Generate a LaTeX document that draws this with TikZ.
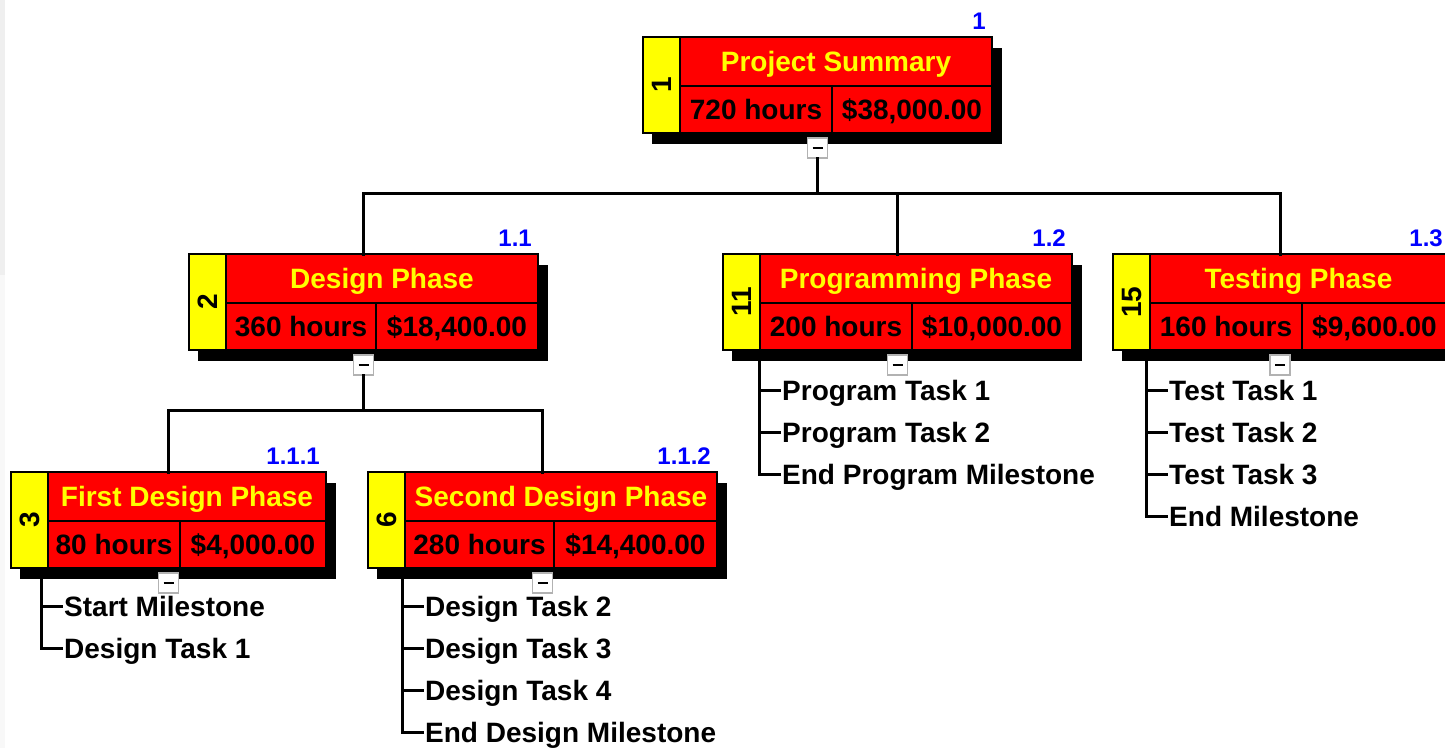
\documentclass[tikz,border=0pt]{standalone}
\usepackage{fontspec}
\setmainfont{Liberation Sans}
\usepackage{graphicx}
\definecolor{wbsred}{HTML}{FF0000}
\definecolor{wbsyellow}{HTML}{FFFF00}
\definecolor{wbsblue}{HTML}{0000FF}
\definecolor{stripA}{HTML}{EFEFEF}
\definecolor{stripB}{HTML}{F8F8F8}
\tikzset{
  cellfont/.style={font=\fontsize{28}{30}\selectfont\bfseries},
  numbox/.style={draw=black, line width=1.2, fill=wbsyellow, inner sep=0, cellfont},
  titlebox/.style={draw=black, line width=1.2, fill=wbsred, text=wbsyellow, inner sep=0, text height=20, text depth=0, cellfont},
  cellbox/.style={draw=black, line width=1.2, fill=wbsred, text=black, inner sep=0, text height=20, text depth=0, cellfont},
  togglebox/.style={draw=gray!60, line width=1.2, fill=white, minimum width=20, minimum height=20, inner sep=0},
  conn/.style={draw=black, line width=3, line cap=rect, line join=miter},
  tasktext/.style={anchor=west, inner sep=0, text height=20, text depth=0, text=black, cellfont},
  lbl/.style={anchor=base east, inner sep=0, text=wbsblue, font=\fontsize{24}{26}\selectfont\bfseries},
}
% #1 name, #2 left, #3 top, #4 right, #5 divider, #6 number, #7 title, #8 hours, #9 cost
\newcommand{\wbsbox}[9]{%
  \fill[black] (#2+9,#3+11) rectangle (#4+10,#3+107);
  \node[numbox, minimum width=37, minimum height=96] (#1-num) at (#2+18.5,#3+48) {\rotatebox{90}{#6}};
  \node[titlebox, minimum width={#4-#2-37}, minimum height=49] (#1-title) at ({(#2+37+#4)/2},#3+24.5) {#7};
  \node[cellbox, minimum width={#5-#2-37}, minimum height=47] (#1-hrs) at ({(#2+37+#5)/2},#3+72.5) {#8};
  \node[cellbox, minimum width={#4-#5}, minimum height=47] (#1-cost) at ({(#5+#4)/2},#3+72.5) {#9};
  \coordinate (#1) at ({(#2+#4)/2},#3);
  \node[togglebox] (#1-tog) at ({(#2+#4)/2},#3+111) {};
  \draw[line width=1.6] ([xshift=-5]#1-tog.center) -- ([xshift=5]#1-tog.center);
}
% #1 name, #2 trunk x, #3 trunk top y, #4 count, #5 items
\newcommand{\tasklist}[5]{%
  \coordinate (#1-trunk) at (#2,#3);
  \foreach \t [count=\i] in {#5} {
    \node[tasktext] (#1-t\i) at (#2+23,{#3+28+42.3*(\i-1)}) {\t};
  }
  \draw[conn] (#1-trunk) |- ([xshift=-3]#1-t#4.west);
  \foreach \i in {1,...,#4} {
    \draw[conn] ([xshift=-3]#1-t\i.west) -- ++(-20,0);
  }
}
\begin{document}
\begin{tikzpicture}[x=1pt,y=-1pt]
\clip (0,0) rectangle (1445,748);
\fill[white] (0,0) rectangle (1445,748);
\fill[stripB] (0,275) rectangle (5,748);
\fill[stripA] (0,0) rectangle (5,275);

% connectors
\coordinate (bus1) at (817,193);
\coordinate (bus2) at (363,410);

\wbsbox{ps}{643}{37}{992}{832}{1}{Project Summary}{720 hours}{\$38,000.00}
\wbsbox{dp}{189}{254}{538}{376}{2}{Design Phase}{360 hours}{\$18,400.00}
\wbsbox{pp}{723}{254}{1072}{912}{11}{Programming Phase}{200 hours}{\$10,000.00}
\wbsbox{tp}{1113}{254}{1447}{1302}{15}{Testing Phase}{160 hours}{\$9,600.00}
\wbsbox{fd}{11}{472}{326}{180}{3}{First Design Phase}{80 hours}{\$4,000.00}
\wbsbox{sd}{368}{472}{717}{554}{6}{Second Design Phase}{280 hours}{\$14,400.00}

\draw[conn] (ps-tog.south) -- (ps-tog.south |- bus1);
\draw[conn] (dp) |- (tp |- bus1) -- (tp);
\draw[conn] (pp |- bus1) -- (pp);
\draw[conn] (dp-tog.south) -- (dp-tog.south |- bus2);
\draw[conn] (fd) |- (sd |- bus2) -- (sd);

% WBS codes
\node[lbl] (ps-lbl) at (986,29) {1};
\node[lbl] (dp-lbl) at (532,246) {1.1};
\node[lbl] (pp-lbl) at (1066,246) {1.2};
\node[lbl] (tp-lbl) at (1443,246) {1.3};
\node[lbl] (fd-lbl) at (320,464) {1.1.1};
\node[lbl] (sd-lbl) at (711,464) {1.1.2};

% task lists
\tasklist{fdl}{41}{578}{2}{Start Milestone,Design Task 1}
\tasklist{sdl}{402}{578}{4}{Design Task 2,Design Task 3,Design Task 4,End Design Milestone}
\tasklist{ppl}{759}{362}{3}{Program Task 1,Program Task 2,End Program Milestone}
\tasklist{tpl}{1146}{362}{4}{Test Task 1,Test Task 2,Test Task 3,End Milestone}
\end{tikzpicture}
\end{document}
